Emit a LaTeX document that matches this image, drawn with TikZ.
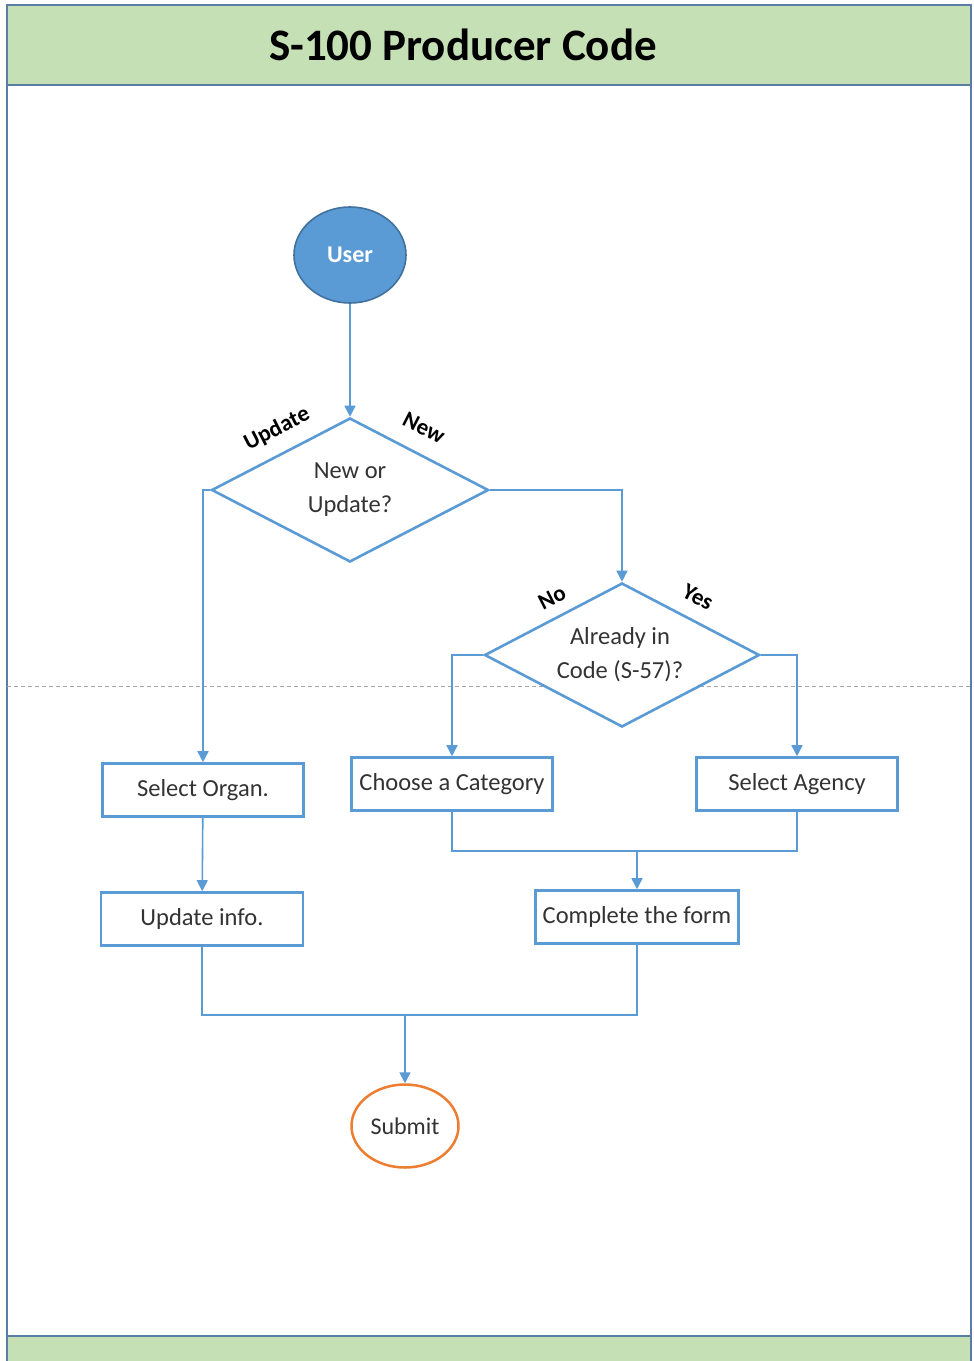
\documentclass[tikz,border=0pt]{standalone}
\usepackage{fontspec}
\setmainfont{Carlito}
\usetikzlibrary{shapes.geometric,arrows.meta}
\definecolor{frameblue}{HTML}{5A7DA6}
\definecolor{bandgreen}{HTML}{C5E0B4}
\definecolor{accent}{HTML}{5B9BD5}
\definecolor{userborder}{HTML}{41719C}
\definecolor{orangeb}{HTML}{ED7D31}
\definecolor{txt}{HTML}{333333}
\definecolor{dashgray}{HTML}{A6A6A6}
\begin{document}
\begin{tikzpicture}[x=1pt,y=-1pt,
  boxnode/.style={draw=accent,line width=2.6pt,fill=white,minimum width=201pt,minimum height=53pt,inner sep=0pt,text=txt,font=\fontsize{24.5}{28}\selectfont},
  decision/.style={diamond,draw=accent,line width=2.6pt,fill=white,inner sep=0pt},
  dtext/.style={text=txt,align=center,inner sep=0pt,font=\fontsize{24.5}{34}\selectfont},
  conn/.style={draw=accent,line width=1.6pt},
  arr/.style={conn,-{Triangle[width=11pt,length=11pt]}},
  edgelabel/.style={font=\bfseries\fontsize{23}{26}\selectfont,text=black,inner sep=0pt}]
\useasboundingbox (0,0) rectangle (974,1361);
\fill[white] (0,0) rectangle (974,1361);
% frame
\draw[frameblue,line width=2.5pt] (7,5) rectangle (971,1380);
\draw[frameblue,line width=2.5pt,fill=bandgreen] (7,5) rectangle (971,85);
\draw[frameblue,line width=2.5pt,fill=bandgreen] (7,1336) rectangle (971,1380);
\node[font=\bfseries\fontsize{45}{48}\selectfont,text=black] (title) at (463,45) {S-100 Producer Code};
% lane divider
\draw[dashgray,line width=1pt,dash pattern=on 4pt off 3pt] (7,686) -- (971,686);
% nodes
\node[ellipse,draw=userborder,line width=1.6pt,fill=accent,minimum width=112pt,minimum height=96pt,inner sep=0pt,text=white,font=\bfseries\fontsize{24}{28}\selectfont] (user) at (350,255) {User};
\node[decision,minimum width=277pt,minimum height=144pt] (d1) at (350,490) {};
\node[dtext] (d1t) at (350,490) {New or\\Update?};
\node[decision,minimum width=275pt,minimum height=144pt] (d2) at (622,655) {};
\node[dtext] (d2t) at (620,655) {Already in\\Code (S-57)?};
\node[boxnode] (selorg) at (203,790) {Select Organ.};
\node[boxnode] (cat) at (452,784) {Choose a Category};
\node[boxnode] (agency) at (797,784) {Select Agency};
\node[boxnode,minimum width=202pt] (upd) at (202,919) {Update info.};
\node[boxnode,minimum width=203pt] (form) at (637,917) {Complete the form};
\node[ellipse,draw=orangeb,line width=2.5pt,fill=white,minimum width=107pt,minimum height=83pt,inner sep=0pt,text=txt,font=\fontsize{24}{28}\selectfont] (submit) at (405,1126) {Submit};
% edge labels
\node[edgelabel,rotate=27] (lupd) at (277,429) {Update};
\node[edgelabel,rotate=-27] (lnew) at (424,428) {New};
\node[edgelabel,rotate=27] (lno) at (552,598) {No};
\node[edgelabel,rotate=-27] (lyes) at (698,597) {Yes};
% junctions
\coordinate (j1) at (637,851);
\coordinate (j2) at (405,1015);
% connectors
\draw[arr] (user) -- (d1.north);
\draw[arr] (d1.west) -| (selorg.north);
\draw[arr] (d1.east) -| (d2.north);
\draw[arr] (d2.west) -| (cat.north);
\draw[arr] (d2.east) -| (agency.north);
\draw[arr] (selorg) -- (upd);
\draw[conn] (cat.south) |- (j1) -| (agency.south);
\draw[arr] (j1) -- (form.north);
\draw[conn] (upd.south) |- (j2) -| (form.south);
\draw[arr] (j2) -- (submit.north);
\end{tikzpicture}
\end{document}
